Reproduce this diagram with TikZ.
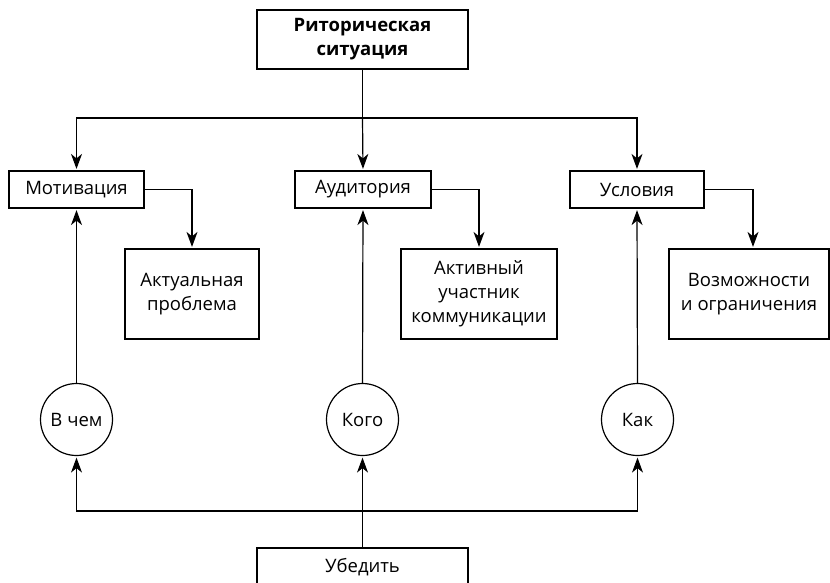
\documentclass[tikz,border=0pt]{standalone}
\usepackage{fontspec}
\setmainfont{Open Sans}
\usetikzlibrary{arrows.meta,calc}
\begin{document}
\begin{tikzpicture}[x=1pt,y=-1pt,
  line width=1.2pt,
  every node/.style={font=\fontsize{18.5}{24}\selectfont, align=center, inner sep=0pt},
  box/.style={draw, rectangle},
  circ/.style={draw, circle, minimum size=72pt},
  arr/.style={-{Stealth[length=15pt,width=11pt,inset=4.5pt]}, shorten >=1.5pt}
]
\useasboundingbox (0,0) rectangle (830,582);
\clip (0,0) rectangle (830,582);

\node[box, minimum width=211pt, minimum height=59pt, font=\fontsize{18.5}{24}\selectfont\bfseries] (top) at (362.5,39.5) {Риторическая\\ситуация};

\node[box, minimum width=135pt, minimum height=37pt] (mot) at (76.5,189.5) {Мотивация};
\node[box, minimum width=136pt, minimum height=37pt] (aud) at (363,189.5) {Аудитория};
\node[box, minimum width=134pt, minimum height=37pt] (usl) at (637,189.5) {Условия};

\node[box, minimum width=134pt, minimum height=90pt] (akt) at (192,294) {Актуальная\\проблема};
\node[box, minimum width=156pt, minimum height=90pt] (act) at (479,294) {Активный\\участник\\коммуникации};
\node[box, minimum width=160pt, minimum height=90pt] (voz) at (749,294) {Возможности\\и ограничения};

\node[circ] (c1) at (76.5,419.5) {В чем};
\node[circ] (c2) at (362.5,419.5) {Кого};
\node[circ] (c3) at (637.5,419.5) {Как};

\node[box, minimum width=211pt, minimum height=38pt] (ube) at (362.5,567) {Убедить};

\coordinate (jt) at (362.5,118);
\coordinate (jb) at (362.5,511);

\draw (top.south) -- (jt);
\draw[arr] (jt) -| (mot.north);
\draw[arr] (jt) -- (aud.north);
\draw[arr] (jt) -| (usl.north);

\draw[arr] (mot.east) -| (akt.north);
\draw[arr] (aud.east) -| (act.north);
\draw[arr] (usl.east) -| ([xshift=4pt]voz.north);

\draw[arr] (c1.north) -- (mot.south);
\draw[arr] (c2.north) -- (aud.south);
\draw[arr] (c3.north) -- (usl.south);

\draw (ube.north) -- (jb);
\draw[arr] (jb) -- (c2.south);
\draw[arr] (jb) -| (c1.south);
\draw[arr] (jb) -| (c3.south);
\end{tikzpicture}
\end{document}
